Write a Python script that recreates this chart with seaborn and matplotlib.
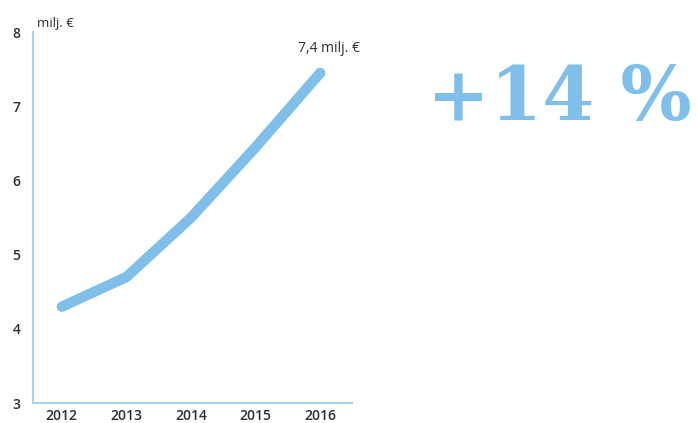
import numpy as np
import pandas as pd
import matplotlib.pyplot as plt
import seaborn as sns

years = [2012, 2013, 2014, 2015, 2016]
values = [4.3, 4.7, 5.5, 6.45, 7.45]
y_ticks = [3, 4, 5, 6, 7, 8]
unit_label = "milj. €"
end_label = "7,4 milj. €"
growth_label = "+14 %"

line_color = "#7fbfe9"
axis_color = "#a9d3f0"
text_color = "#2e2e2e"

sns.set_theme(style="white")
plt.rcParams['font.family'] = ['Open Sans', 'DejaVu Sans']

df = pd.DataFrame({"year": years, "value": values})

fig = plt.figure(figsize=(6.98, 4.23), dpi=100)
ax = fig.add_axes([0.047, 0.047, 0.458, 0.877])

sns.lineplot(data=df, x="year", y="value", ax=ax, color=line_color,
             linewidth=7.5, solid_capstyle="round", solid_joinstyle="round")

ax.set_xlim(2011.55, 2016.5)
ax.set_ylim(3, 8)
ax.set_xticks(years)
ax.set_yticks(y_ticks)
ax.set_xlabel("")
ax.set_ylabel("")
ax.tick_params(axis="both", labelsize=10, colors=text_color, length=0, pad=4)
ax.tick_params(axis="y", length=4, color="#bbbbbb", direction="out", pad=5)
for lab in ax.get_xticklabels() + ax.get_yticklabels():
    lab.set_fontweight("semibold")

for s in ["top", "right"]:
    ax.spines[s].set_visible(False)
for s in ["left", "bottom"]:
    ax.spines[s].set_color(axis_color)
    ax.spines[s].set_linewidth(1.5)

ax.text(0.012, 1.005, unit_label, transform=ax.transAxes, fontsize=9.5,
        color=text_color, ha="left", va="bottom")
ax.annotate(end_label, xy=(years[-1], values[-1]), xytext=(6, 12),
            textcoords="offset points", ha="center", va="bottom",
            fontsize=10, color=text_color)

fig.text(0.802, 0.765, growth_label, fontsize=54, fontweight="bold",
         family=["DejaVu Serif"], color=line_color, ha="center", va="center")

fig.savefig("out.png", dpi=100)
